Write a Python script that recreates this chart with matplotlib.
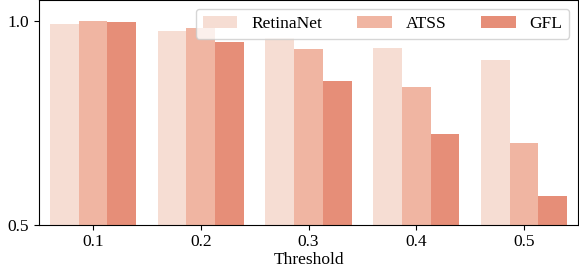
import matplotlib
matplotlib.use("Agg")
import matplotlib.pyplot as plt
import numpy as np

# data
thresholds = ["0.1", "0.2", "0.3", "0.4", "0.5"]
retinanet = [0.993, 0.976, 0.958, 0.934, 0.905]
atss = [1.001, 0.984, 0.932, 0.838, 0.701]
gfl = [0.998, 0.949, 0.853, 0.724, 0.571]

series = [("RetinaNet", retinanet, "#f6ddd3"),
          ("ATSS", atss, "#f0b5a2"),
          ("GFL", gfl, "#e68e78")]

plt.rcParams["font.family"] = ["Liberation Serif", "DejaVu Serif"]

fig = plt.figure(figsize=(5.79, 2.68), dpi=100)
ax = fig.add_axes([39 / 579, 43.3 / 268, 539 / 579, 224.7 / 268])

x = np.arange(len(thresholds))
width = 0.8 / 3
for i, (name, vals, color) in enumerate(series):
    ax.bar(x + (i - 1) * width, vals, width, color=color, label=name,
           edgecolor="none")

ax.set_xlim(-0.5, len(thresholds) - 0.5)
ax.set_ylim(0.5, 1.052)
ax.set_yticks([0.5, 1.0])
ax.set_yticklabels(["0.5", "1.0"])
ax.set_xticks(x)
ax.set_xticklabels(thresholds)
ax.tick_params(labelsize=12.5)
ax.set_xlabel("Threshold", fontsize=12.5, labelpad=1)

ax.legend(loc="upper right", ncol=3, fontsize=12.5, framealpha=0.8)

fig.savefig("out.png", dpi=100)
